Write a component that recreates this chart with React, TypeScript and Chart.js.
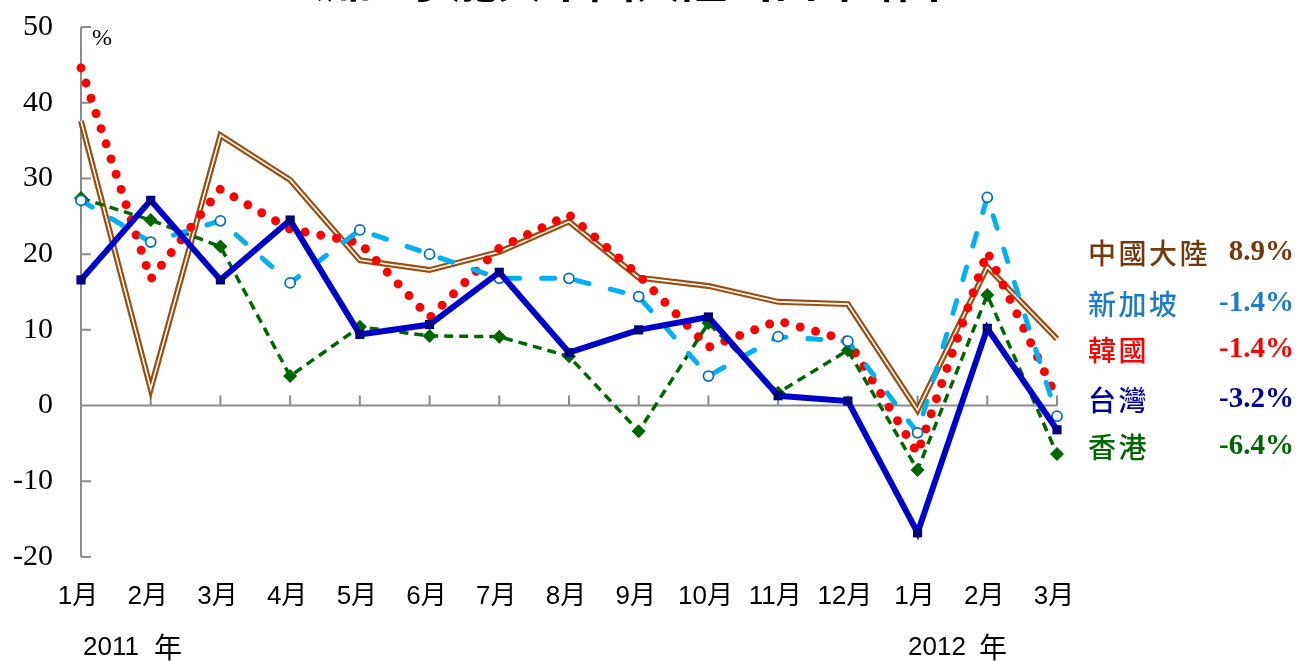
import React, { useEffect, useRef } from "react";
import { Chart, registerables } from "chart.js";

Chart.register(...registerables);

const categories = ["1月", "2月", "3月", "4月", "5月", "6月", "7月", "8月", "9月", "10月", "11月", "12月", "1月", "2月", "3月"];
const yearNums = ["2011", "2012"];
const yearUnit = "年";
const yTicks = [50, 40, 30, 20, 10, 0, -10, -20];

const china = [37.6, 2.2, 35.7, 29.8, 19.2, 17.9, 20.3, 24.3, 16.9, 15.8, 13.7, 13.4, -0.6, 18.3, 8.8];
const korea = [44.6, 16.7, 28.6, 23.3, 21.5, 11.6, 20.8, 25.2, 17.2, 7.7, 11.2, 8.6, -6.3, 20.3, 1.0];
const singapore = [27.1, 21.6, 24.4, 16.2, 23.2, 20.0, 16.8, 16.8, 14.4, 3.9, 9.1, 8.5, -3.6, 27.5, -1.4];
const taiwan = [16.6, 27.1, 16.6, 24.5, 9.4, 10.7, 17.6, 7.0, 10.0, 11.7, 1.3, 0.6, -16.8, 10.2, -3.2];
const hongkong = [27.4, 24.5, 21.0, 3.9, 10.4, 9.2, 9.1, 6.5, -3.4, 10.9, 1.7, 7.3, -8.5, 14.6, -6.4];

const legendNames = ["中國大陸", "新加坡", "韓國", "台灣", "香港"];
const legendValues = ["8.9%", "-1.4%", "-1.4%", "-3.2%", "-6.4%"];
const titleText = "亞洲四小龍與中國大陸出口年增率";

const CJK = '"Noto Sans CJK TC", "Noto Sans CJK SC", sans-serif';

export default function App() {
  const ref = useRef<HTMLCanvasElement | null>(null);

  useEffect(() => {
    const canvas = ref.current;
    if (!canvas) return;

    const legendColors = ["#74390A", "#1F7BC4", "#FF0000", "#000099", "#006600"];
    const legendY = [253, 304, 350, 400, 447];

    const decor = {
      id: "decor",
      beforeDatasetsDraw(chart: any) {
        const ctx = chart.ctx;
        const x = chart.scales.x;
        const y = chart.scales.y;
        const left = chart.chartArea.left;
        ctx.save();
        ctx.strokeStyle = "#8C8C8C";
        ctx.lineWidth = 2;
        ctx.beginPath();
        ctx.moveTo(left, y.getPixelForValue(50));
        ctx.lineTo(left, y.getPixelForValue(-20));
        for (const t of yTicks) {
          const py = y.getPixelForValue(t);
          ctx.moveTo(left, py);
          ctx.lineTo(left + 10, py);
        }
        const y0 = y.getPixelForValue(0);
        ctx.moveTo(left, y0);
        ctx.lineTo(x.getPixelForValue(categories.length - 1), y0);
        categories.forEach((_, i) => {
          const px = x.getPixelForValue(i);
          ctx.moveTo(px, y0);
          ctx.lineTo(px, y0 - 10);
        });
        ctx.stroke();
        ctx.restore();
      },
      afterDraw(chart: any) {
        const ctx = chart.ctx;
        const x = chart.scales.x;
        const y = chart.scales.y;
        ctx.save();
        // title (mostly cut off at top)
        ctx.fillStyle = "#000";
        ctx.font = `bold 46px ${CJK}`;
        ctx.textAlign = "center";
        ctx.textBaseline = "alphabetic";
        ctx.fillText(titleText, 612, -3);

        // y labels
        ctx.font = '30px "Liberation Serif", "Times New Roman", serif';
        ctx.textAlign = "right";
        ctx.textBaseline = "middle";
        for (const t of yTicks) {
          ctx.fillText(String(t), 53, y.getPixelForValue(t));
        }
        ctx.font = '24px "Liberation Serif", serif';
        ctx.textAlign = "left";
        ctx.fillText("%", 92, 39);

        // x labels
        ctx.font = `26px "Liberation Sans", ${CJK}`;
        ctx.textAlign = "center";
        categories.forEach((c, i) => {
          ctx.fillText(c, x.getPixelForValue(i) - 3, 597);
        });
        ctx.textAlign = "left";
        const yearX = [83, 908];
        yearNums.forEach((n, i) => {
          ctx.font = `26px "Liberation Sans", ${CJK}`;
          ctx.fillText(n, yearX[i], 648);
          ctx.font = `28px ${CJK}`;
          ctx.fillText(yearUnit, yearX[i] + 71, 647);
        });

        // legend
        legendNames.forEach((name, i) => {
          ctx.fillStyle = legendColors[i];
          ctx.font = `500 28px ${CJK}`;
          ctx.textAlign = "left";
          ctx.textBaseline = "middle";
          [...name].forEach((ch, j) => {
            ctx.fillText(ch, 1088 + j * 30.5, legendY[i]);
          });
          ctx.font = 'bold 29px "Liberation Serif", serif';
          ctx.textAlign = "right";
          ctx.fillText(legendValues[i], 1294, legendY[i]);
        });
        ctx.restore();
      },
    };

    // Chart.js paints the first dataset last (on top), so list top-most first.
    const chart = new Chart(canvas, {
      type: "line",
      data: {
        labels: categories,
        datasets: [
          { label: "台灣", data: taiwan, borderColor: "#0000CC", borderWidth: 6, pointStyle: "rect", pointRadius: 6.5, pointBackgroundColor: "#000080", pointBorderColor: "#000080", pointBorderWidth: 0, tension: 0, clip: false } as any,
          { label: "新加坡", data: singapore, borderColor: "#00B0F0", borderWidth: 5, borderDash: [13, 22], borderCapStyle: "round", pointStyle: "circle", pointRadius: 5, pointBackgroundColor: "#FFFFFF", pointBorderColor: "#0070C0", pointBorderWidth: 1.8, tension: 0, clip: false } as any,
          { label: "香港", data: hongkong, borderColor: "#006600", borderWidth: 3.5, borderDash: [9, 6], pointStyle: "rectRot", pointRadius: 7, pointBackgroundColor: "#006600", pointBorderColor: "#006600", pointBorderWidth: 0, tension: 0, clip: false } as any,
          { label: "韓國", data: korea, borderColor: "#FF0000", borderWidth: 9, borderDash: [0, 16], borderCapStyle: "round", pointRadius: 0, tension: 0, clip: false } as any,
          { label: "中國大陸-inner", data: china, borderColor: "#FFFFFF", borderWidth: 1.6, pointRadius: 0, tension: 0, clip: false } as any,
          { label: "中國大陸", data: china, borderColor: "#9C4E10", borderWidth: 6, pointRadius: 0, tension: 0, clip: false } as any,
        ],
      },
      options: {
        responsive: false,
        animation: false,
        devicePixelRatio: 1,
        layout: { padding: { left: 81, right: 244, top: 27, bottom: 104 } },
        scales: {
          x: { type: "category", display: false, offset: false },
          y: { type: "linear", display: false, min: -20, max: 50 },
        },
        plugins: {
          legend: { display: false },
          tooltip: { enabled: false },
          title: { display: false },
        },
        events: [],
      },
      plugins: [decor],
    });

    return () => chart.destroy();
  }, []);

  return (
    <div style={{ position: "absolute", left: 0, top: 0, width: 1301, height: 661, background: "#fff" }}>
      <canvas ref={ref} width={1301} height={661} style={{ display: "block" }} />
    </div>
  );
}
